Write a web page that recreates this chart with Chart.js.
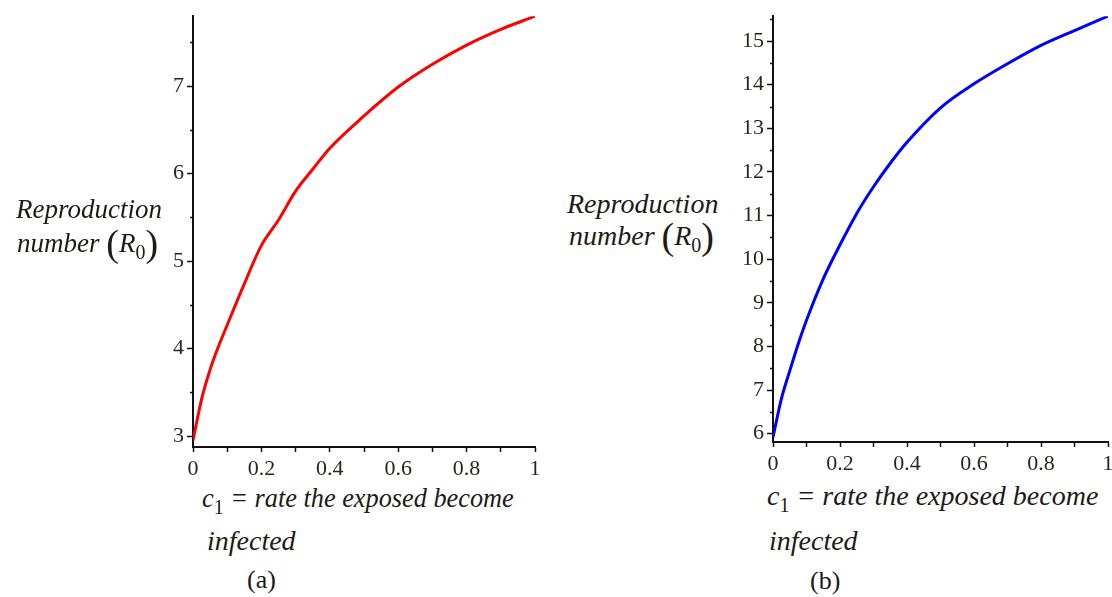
<!DOCTYPE html>
<html>
<head>
<meta charset="utf-8">
<script src="https://cdn.jsdelivr.net/npm/chart.js@4.4.1/dist/chart.umd.min.js"></script>
<style>
    html, body { margin: 0; padding: 0; background: #fff; }
    body { width: 1112px; height: 597px; overflow: hidden; position: relative; }
    canvas { position: absolute; }
    .lbl { position: absolute; font-family: "Liberation Serif", "Times New Roman", serif; font-style: italic;
           font-size: 27px; line-height: 1; color: #1e1a17; white-space: nowrap; }
    .lbl.big { font-size: 28px; }
    .lbl.small { font-size: 26.3px; }
    .lbl sub { font-style: normal; font-size: 20px; vertical-align: -7px; line-height: 0; }
    .lbl .par { font-style: normal; font-size: 38px; vertical-align: -4px; line-height: 0; }
    .cap { position: absolute; font-family: "Liberation Serif", "Times New Roman", serif; font-size: 26px;
           line-height: 1; color: #1e1a17; }
</style>
</head>
<body>
<canvas id="chartA" width="400" height="480" style="left:151px; top:0px;"></canvas>
<canvas id="chartB" width="400" height="475" style="left:730px; top:0px;"></canvas>

<div class="lbl" style="left:16px; top:196px;">Reproduction</div>
<div class="lbl" style="left:17px; top:230px;">number <span class="par">(</span>R<sub>0</sub><span class="par">)</span></div>
<div class="lbl small" style="left:202px; top:486px;">c<sub>1</sub> = rate the exposed become</div>
<div class="lbl big" style="left:207px; top:527px;">infected</div>
<div class="cap" style="left:247px; top:567px;">(a)</div>

<div class="lbl big" style="left:567px; top:190px;">Reproduction</div>
<div class="lbl big" style="left:569px; top:222px;">number <span class="par">(</span>R<sub>0</sub><span class="par">)</span></div>
<div class="lbl big" style="left:767px; top:482px;">c<sub>1</sub> = rate the exposed become</div>
<div class="lbl big" style="left:769px; top:527px;">infected</div>
<div class="cap" style="left:810px; top:568px;">(b)</div>

<script>
// c1 values (x) and R0
const c1Values = [0, 0.025, 0.05, 0.075, 0.1, 0.15, 0.2, 0.25, 0.3, 0.35, 0.4, 0.5, 0.6, 0.7, 0.8, 0.9, 1];
const r0ValuesA = [2.95, 3.42, 3.76, 4.03, 4.27, 4.74, 5.18, 5.47, 5.80, 6.05, 6.29, 6.66, 6.99, 7.25, 7.47, 7.65, 7.8];
const r0ValuesB = [5.92, 6.8, 7.44, 8.05, 8.6, 9.55, 10.33, 11.05, 11.66, 12.2, 12.68, 13.47, 14.02, 14.48, 14.9, 15.24, 15.57];

const xTickValues = [0, 0.1, 0.2, 0.3, 0.4, 0.5, 0.6, 0.7, 0.8, 0.9, 1];
const xTickLabels = ['0', '', '0.2', '', '0.4', '', '0.6', '', '0.8', '', '1'];
const yTicksA = [3, 4, 5, 6, 7];
const yTicksB = [6, 7, 8, 9, 10, 11, 12, 13, 14, 15];

const axisColor = '#111';
const tickFont = { family: '"Liberation Serif", "Times New Roman", serif', size: 22 };

// small unlabelled ticks on the y axis every half unit
const minorTicks = {
    id: 'minorTicks',
    afterDraw(chart) {
        const s = chart.scales.y;
        const ctx = chart.ctx;
        ctx.save();
        ctx.strokeStyle = axisColor;
        ctx.lineWidth = 1.5;
        for (let v = Math.ceil(s.min * 2) / 2; v <= s.max; v += 0.5) {
            if (Number.isInteger(v)) continue;
            const p = Math.round(s.getPixelForValue(v)) + 0.5;
            ctx.beginPath();
            ctx.moveTo(s.right, p);
            ctx.lineTo(s.right - 3, p);
            ctx.stroke();
        }
        ctx.restore();
    }
};

function makeChart(id, yValues, color, yMin, yMax, yTicks, yWidth, padding) {
    const points = c1Values.map((c, i) => ({ x: c, y: yValues[i] }));
    return new Chart(document.getElementById(id), {
        type: 'line',
        data: {
            datasets: [{
                data: points,
                borderColor: color,
                borderWidth: 3,
                pointRadius: 0,
                cubicInterpolationMode: 'monotone',
                fill: false
            }]
        },
        options: {
            responsive: false,
            animation: false,
            layout: { padding: padding },
            plugins: { legend: { display: false }, tooltip: { enabled: false } },
            scales: {
                x: {
                    type: 'linear',
                    min: 0,
                    max: 1,
                    afterBuildTicks: scale => { scale.ticks = xTickValues.map(v => ({ value: v })); },
                    afterFit: scale => { scale.height = 30; },
                    ticks: {
                        callback: (v, i) => xTickLabels[i],
                        font: tickFont,
                        color: '#2b2520',
                        padding: 4,
                        maxRotation: 0,
                        autoSkip: false
                    },
                    grid: { drawOnChartArea: false, tickLength: 5, tickColor: axisColor, tickWidth: 1.5 },
                    border: { color: axisColor, width: 2 }
                },
                y: {
                    type: 'linear',
                    min: yMin,
                    max: yMax,
                    afterBuildTicks: scale => { scale.ticks = yTicks.map(v => ({ value: v })); },
                    afterFit: scale => { scale.width = yWidth; },
                    ticks: { font: tickFont, color: '#2b2520', padding: 3 },
                    grid: { drawOnChartArea: false, tickLength: 6, tickColor: axisColor, tickWidth: 1.5 },
                    border: { color: axisColor, width: 2 }
                }
            }
        },
        plugins: [minorTicks]
    });
}

makeChart('chartA', r0ValuesA, '#ff0000', 2.875, 7.8, yTicksA, 41, { left: 1, top: 15, right: 16, bottom: 3 });
makeChart('chartB', r0ValuesB, '#0000ff', 5.81, 15.57, yTicksB, 42, { left: 1, top: 12, right: 22, bottom: 3 });
</script>
</body>
</html>
